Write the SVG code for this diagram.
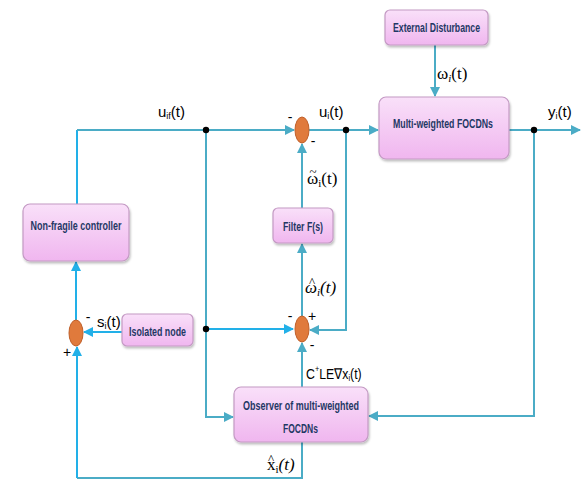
<svg xmlns="http://www.w3.org/2000/svg" width="584" height="480" viewBox="0 0 584 480">
<style>
.box{fill:url(#pk);stroke:#c49ac4;stroke-width:1.2}
.bt{font-family:"Liberation Sans",Arial,sans-serif;font-weight:bold;font-size:13.5px;fill:#1f3864;text-anchor:middle}
.ln{fill:none;stroke:#4bacc6;stroke-width:2}
.lb{fill:none;stroke:#22b0e8;stroke-width:2}
.sj{fill:#e07a3c;stroke:#c0602a;stroke-width:1}
.dot{fill:#000}
.lab{font-family:"Liberation Sans",Arial,sans-serif;font-size:15px;fill:#000}
.mth{font-family:"Liberation Serif","DejaVu Serif",serif;font-size:17px;fill:#000}
.acc{font-family:"Liberation Serif","DejaVu Serif",serif;font-size:13px;fill:#000;text-anchor:middle}
.sg{font-family:"Liberation Sans",Arial,sans-serif;font-size:14px;fill:#000;text-anchor:middle}
</style>
<defs>
<linearGradient id="pk" x1="0" y1="0" x2="0" y2="1">
<stop offset="0" stop-color="#f9e0f9"/>
<stop offset="1" stop-color="#f0b6ef"/>
</linearGradient>
<filter id="sh" x="-10%" y="-10%" width="130%" height="140%">
<feDropShadow dx="1" dy="2" stdDeviation="1.2" flood-color="#000" flood-opacity="0.25"/>
</filter>
<marker id="ar" viewBox="0 0 10 10" refX="9" refY="5" markerWidth="5" markerHeight="5" orient="auto-start-reverse">
<path d="M0,0 L10,5 L0,10 z" fill="#4bacc6"/>
</marker>
<marker id="arb" viewBox="0 0 10 10" refX="9" refY="5" markerWidth="5" markerHeight="5" orient="auto-start-reverse">
<path d="M0,0 L10,5 L0,10 z" fill="#22b0e8"/>
</marker>
</defs>
<rect width="584" height="480" fill="#fff"/>

<g id="connectors">
<path class="ln" d="M435,45 V96" marker-end="url(#ar)"/>
<path class="lb" d="M77,204 V130"/>
<path class="ln" d="M77,130 H294" marker-end="url(#ar)"/>
<path class="ln" d="M309,130 H378" marker-end="url(#ar)"/>
<path class="ln" d="M509,130 H580" marker-end="url(#ar)"/>
<path class="ln" d="M302,208 V144" marker-end="url(#ar)"/>
<path class="ln" d="M346,130 V330 H310" marker-end="url(#ar)"/>
<path class="ln" d="M206,130 V417 H233" marker-end="url(#ar)"/>
<path class="lb" d="M206,329 H293" marker-end="url(#arb)"/>
<path class="ln" d="M302,316 V244" marker-end="url(#ar)"/>
<path class="ln" d="M302,387 V343" marker-end="url(#ar)"/>
<path class="ln" d="M534,130 V416 H369" marker-end="url(#ar)"/>
<path class="ln" d="M302,442 V478 H77"/>
<path class="lb" d="M77,478 V347" marker-end="url(#arb)"/>
<path class="lb" d="M122,332 H84" marker-end="url(#arb)"/>
<path class="lb" d="M76,320 V262" marker-end="url(#arb)"/>
</g>

<g id="ext-disturbance">
<rect class="box" filter="url(#sh)" x="385" y="10" width="103" height="35" rx="5"/>
<text class="bt" x="436.5" y="32" textLength="87" lengthAdjust="spacingAndGlyphs">External Disturbance</text>
</g>
<g id="plant">
<rect class="box" filter="url(#sh)" x="379" y="97" width="130" height="62" rx="7"/>
<text class="bt" x="443" y="128" textLength="100" lengthAdjust="spacingAndGlyphs">Multi-weighted FOCDNs</text>
</g>
<g id="controller">
<rect class="box" filter="url(#sh)" x="23" y="204" width="106" height="57" rx="7"/>
<text class="bt" x="76" y="230" textLength="91" lengthAdjust="spacingAndGlyphs">Non-fragile controller</text>
</g>
<g id="filter">
<rect class="box" filter="url(#sh)" x="273" y="208" width="60" height="35" rx="5"/>
<text class="bt" x="303" y="231" textLength="40" lengthAdjust="spacingAndGlyphs">Filter F(s)</text>
</g>
<g id="isolated">
<rect class="box" filter="url(#sh)" x="122" y="314" width="71" height="32" rx="5"/>
<text class="bt" x="157.5" y="336" textLength="57" lengthAdjust="spacingAndGlyphs">Isolated node</text>
</g>
<g id="observer">
<rect class="box" filter="url(#sh)" x="234" y="387" width="134" height="55" rx="7"/>
<text class="bt" x="301" y="410" textLength="116" lengthAdjust="spacingAndGlyphs">Observer of multi-weighted</text>
<text class="bt" x="300.5" y="433" textLength="35" lengthAdjust="spacingAndGlyphs">FOCDNs</text>
</g>

<g id="sum-top">
<ellipse class="sj" cx="302" cy="130" rx="7" ry="13"/>
<text class="sg" x="290" y="122">-</text>
<text class="sg" x="313" y="146">-</text>
</g>
<g id="sum-mid">
<ellipse class="sj" cx="302" cy="329" rx="7" ry="13"/>
<text class="sg" x="290" y="321">-</text>
<text class="sg" x="312" y="321">+</text>
<text class="sg" x="312" y="350">-</text>
</g>
<g id="sum-left">
<ellipse class="sj" cx="76" cy="333" rx="7" ry="13"/>
<text class="sg" x="88" y="322">-</text>
<text class="sg" x="67" y="357">+</text>
</g>

<g id="dots">
<circle class="dot" cx="206" cy="130" r="3.2"/>
<circle class="dot" cx="346" cy="130" r="3.2"/>
<circle class="dot" cx="534" cy="130" r="3.2"/>
<circle class="dot" cx="206" cy="329" r="3.2"/>
</g>

<g id="labels">
<text class="lab" x="158" y="117">u<tspan font-size="9" dy="2">if</tspan><tspan dy="-2">(t)</tspan></text>
<text class="lab" x="319" y="117">u<tspan font-size="9" dy="2">i</tspan><tspan dy="-2">(t)</tspan></text>
<text class="lab" x="548" y="117">y<tspan font-size="9" dy="2">i</tspan><tspan dy="-2">(t)</tspan></text>
<text class="lab" x="97" y="327">s<tspan font-size="9" dy="2">i</tspan><tspan dy="-2">(t)</tspan></text>
<g transform="translate(306,379) scale(0.82,1)">
<text class="lab" x="0" y="0">C<tspan font-size="9" dy="-7">+</tspan><tspan dy="7">LE∇x</tspan><tspan font-size="9" dy="2">i</tspan><tspan dy="-2">(t)</tspan></text>
</g>
<text class="mth" x="437" y="79">ω<tspan font-size="11" dy="3" font-style="italic">i</tspan><tspan dy="-3">(t)</tspan></text>
<text class="mth" x="307" y="184">ω<tspan font-size="11" dy="3">i</tspan><tspan dy="-3">(t)</tspan></text>
<text class="acc" x="313" y="176">~</text>
<text class="mth" x="305" y="293" font-style="italic">ω<tspan font-size="11" dy="3">i</tspan><tspan dy="-3">(t)</tspan></text>
<text class="acc" x="312" y="286" font-size="12">^</text>
<text class="mth" x="267" y="470">x<tspan font-size="11" dy="3">i</tspan><tspan dy="-3" font-style="italic">(t)</tspan></text>
<text class="acc" x="271" y="463" font-size="12">^</text>
</g>
</svg>
